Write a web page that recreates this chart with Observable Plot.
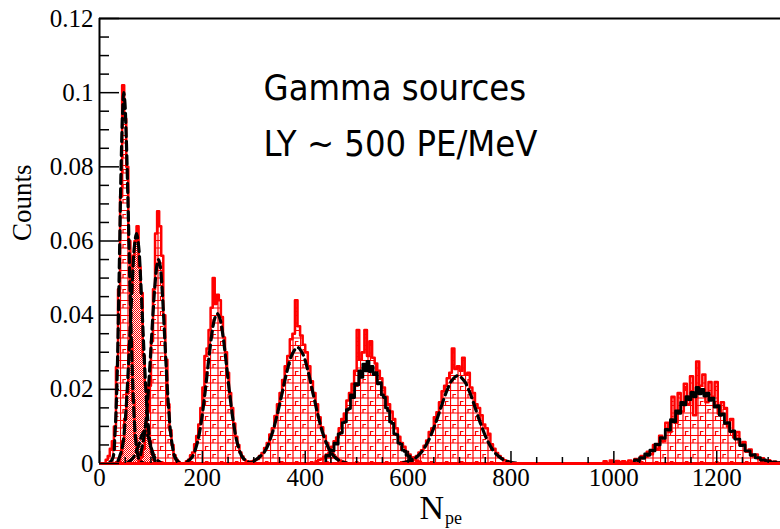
<!DOCTYPE html>
<html>
<head>
<meta charset="utf-8">
<script src="https://cdn.jsdelivr.net/npm/d3@7"></script>
<script src="https://cdn.jsdelivr.net/npm/@observablehq/plot@0.6"></script>
<style>
  body { margin: 0; background: #fff; }
  #chart svg { display: block; }
</style>
</head>
<body>
<div id="chart"></div>
<script>
// Axis ticks and labels
const xMajor = [0, 200, 400, 600, 800, 1000, 1200];
const yMajor = [0, 0.02, 0.04, 0.06, 0.08, 0.1, 0.12];

// Measured spectra: each histogram is {start, width, counts} (normalised counts per bin)
const specA = { start: 12, width: 4, counts: [0.001, 0.002, 0.004, 0.006, 0.010, 0.026, 0.047, 0.072, 0.102, 0.093, 0.080, 0.060, 0.033, 0.017, 0.007, 0.003, 0.001, 0.0003] };
const specB = { start: 36, width: 4, counts: [0.0003, 0.0025, 0.006, 0.012, 0.019, 0.032, 0.046, 0.056, 0.060, 0.064, 0.053, 0.046, 0.029, 0.021, 0.010, 0.006, 0.003, 0.001] };
const specC = { start: 76, width: 4, counts: [0.0007, 0.0018, 0.004, 0.008, 0.014, 0.021, 0.033, 0.047, 0.062, 0.068, 0.064, 0.056, 0.040, 0.028, 0.016, 0.009, 0.005, 0.0022, 0.001, 0.0004] };
const specD = { start: 168, width: 4, counts: [0.0006, 0.0010, 0.0022, 0.0030, 0.0052, 0.0074, 0.0105, 0.0150, 0.0205, 0.0290, 0.0310, 0.0360, 0.0420, 0.0500, 0.0430, 0.0455, 0.0440, 0.0395, 0.0340, 0.0300, 0.0245, 0.0190, 0.0150, 0.0108, 0.0072, 0.0050, 0.0030, 0.0019, 0.0010, 0.0006, 0.0003] };
const specE = { start: 290, width: 5, counts: [0.0004, 0.0006, 0.0010, 0.0012, 0.0020, 0.0028, 0.0042, 0.0055, 0.0078, 0.0095, 0.0128, 0.0160, 0.0190, 0.0225, 0.0262, 0.0290, 0.0335, 0.0350, 0.0440, 0.0370, 0.0345, 0.0320, 0.0300, 0.0262, 0.0222, 0.0190, 0.0160, 0.0125, 0.0098, 0.0075, 0.0055, 0.0040, 0.0028, 0.0018, 0.0012, 0.0008, 0.0005, 0.0003] };
const specF = { start: 420, width: 5, counts: [0.0006, 0.0010, 0.0012, 0.0018, 0.0024, 0.0030, 0.0045, 0.0060, 0.0070, 0.0095, 0.0120, 0.0135, 0.0170, 0.0190, 0.0215, 0.0250, 0.0360, 0.0280, 0.0300, 0.0360, 0.0290, 0.0330, 0.0285, 0.0270, 0.0250, 0.0230, 0.0205, 0.0180, 0.0160, 0.0140, 0.0120, 0.0095, 0.0072, 0.0055, 0.0045, 0.0032, 0.0024, 0.0016, 0.0011, 0.0008, 0.0005] };
const specG = { start: 590, width: 5, counts: [0.0004, 0.0005, 0.0008, 0.0010, 0.0016, 0.0020, 0.0030, 0.0036, 0.0048, 0.0062, 0.0085, 0.0095, 0.0125, 0.0138, 0.0165, 0.0195, 0.0210, 0.0230, 0.0245, 0.0310, 0.0255, 0.0262, 0.0250, 0.0285, 0.0240, 0.0245, 0.0205, 0.0190, 0.0160, 0.0150, 0.0130, 0.0105, 0.0095, 0.0080, 0.0052, 0.0040, 0.0028, 0.0020, 0.0014, 0.0009, 0.0006, 0.0004] };
const specH = { start: 980, width: 6, counts: [0.0006, 0, 0.0008, 0.0004, 0.0007, 0.0004, 0.0006, 0.0003, 0.0008, 0.0005, 0.0012, 0.0010, 0.0020, 0.0018, 0.0032, 0.0025, 0.0050, 0.0040, 0.0075, 0.0060, 0.0110, 0.0085, 0.0180, 0.0110, 0.0190, 0.0140, 0.0215, 0.0160, 0.0235, 0.0130, 0.0275, 0.0210, 0.0240, 0.0165, 0.0220, 0.0180, 0.0220, 0.0135, 0.0165, 0.0150, 0.0100, 0.0120, 0.0070, 0.0085, 0.0050, 0.0058, 0.0032, 0.0038, 0.0020, 0.0024, 0.0012, 0.0014, 0.0007, 0.0009, 0.0004, 0.0005, 0.0002, 0.0003] };

// Simulated spectra (black histograms)
const simF = { start: 440, width: 4, counts: [0.0022, 0.0020, 0.0036, 0.0034, 0.0055, 0.0052, 0.0080, 0.0082, 0.0110, 0.0112, 0.0145, 0.0148, 0.0185, 0.0178, 0.0215, 0.0212, 0.0250, 0.0232, 0.0268, 0.0250, 0.0275, 0.0248, 0.0262, 0.0240, 0.0245, 0.0215, 0.0218, 0.0185, 0.0178, 0.0150, 0.0142, 0.0112, 0.0108, 0.0080, 0.0078, 0.0055, 0.0052, 0.0036, 0.0033, 0.0022, 0.0020, 0.0012] };
const simH = { start: 1040, width: 5, counts: [0.0010, 0.0008, 0.0016, 0.0014, 0.0026, 0.0022, 0.0036, 0.0034, 0.0052, 0.0050, 0.0070, 0.0068, 0.0092, 0.0090, 0.0118, 0.0112, 0.0142, 0.0135, 0.0165, 0.0158, 0.0180, 0.0172, 0.0192, 0.0180, 0.0205, 0.0188, 0.0200, 0.0182, 0.0190, 0.0170, 0.0176, 0.0152, 0.0156, 0.0130, 0.0134, 0.0108, 0.0110, 0.0086, 0.0088, 0.0066, 0.0066, 0.0048, 0.0050, 0.0034, 0.0034, 0.0022, 0.0024, 0.0015, 0.0016, 0.0009, 0.0010, 0.0005, 0.0006, 0.0003, 0.0004, 0.0002, 0.0002] };

// Fitted peak shapes (dashed curves)
const fitAx = [20, 26, 30, 34, 38, 42, 45, 47, 49, 52, 56, 60, 64, 68, 72, 78, 86];
const fitAy = [0.0003, 0.0015, 0.0077, 0.022, 0.049, 0.080, 0.095, 0.100, 0.098, 0.088, 0.067, 0.043, 0.024, 0.011, 0.0044, 0.0008, 0.0001];
const fitBx = [36, 44, 50, 56, 60, 64, 68, 72, 76, 80, 84, 88, 94, 100, 108];
const fitBy = [0.0007, 0.0041, 0.0115, 0.0255, 0.0376, 0.0496, 0.0587, 0.062, 0.0587, 0.0496, 0.0376, 0.0255, 0.0115, 0.0041, 0.0007];
const fitKx = [55, 65, 75, 82, 88, 94, 100, 108, 118];
const fitKy = [0.0003, 0.0015, 0.0045, 0.0075, 0.0088, 0.0075, 0.0045, 0.0015, 0.0003];
const fitCx = [80, 88, 94, 100, 104, 108, 112, 115, 118, 122, 126, 130, 134, 140, 148, 156];
const fitCy = [0.0024, 0.0086, 0.0179, 0.031, 0.0404, 0.0485, 0.0537, 0.055, 0.0533, 0.0464, 0.0361, 0.0252, 0.0157, 0.0063, 0.0013, 0.0002];
const fitDx = [170, 180, 190, 198, 206, 212, 218, 224, 229, 234, 240, 246, 252, 260, 268, 278, 290, 300];
const fitDy = [0.0004, 0.0017, 0.0055, 0.0114, 0.0201, 0.0276, 0.0345, 0.0391, 0.0404, 0.0391, 0.0345, 0.0276, 0.0201, 0.0114, 0.0055, 0.0017, 0.0004, 0.0001];
const fitEx = [300, 320, 335, 345, 355, 365, 375, 385, 395, 405, 415, 425, 435, 450, 465, 480];
const fitEy = [0.0006, 0.003, 0.0078, 0.0129, 0.019, 0.0251, 0.0296, 0.0313, 0.0296, 0.0251, 0.019, 0.0129, 0.0078, 0.003, 0.0009, 0.0002];
const fitGx = [590, 610, 625, 640, 655, 665, 675, 685, 697, 710, 720, 730, 740, 755, 770, 790, 810];
const fitGy = [0.0002, 0.0011, 0.0029, 0.0063, 0.0115, 0.0156, 0.0195, 0.0224, 0.0237, 0.0221, 0.0191, 0.0152, 0.0111, 0.006, 0.0027, 0.0007, 0.0001];

const annotation = "Gamma sources\nLY ~ 500 PE/MeV";

// ---- layout ----
const width = 780, height = 529;
const margin = { top: 18, right: 0, bottom: 66, left: 99 };
const frameW = width - margin.left - margin.right;
const frameH = height - margin.top - margin.bottom;
const red = "#ff0000";

// histogram -> closed step outline (left bin edges, step-after)
function steps(h) {
  const pts = [{ x: h.start, y: 0 }];
  h.counts.forEach((c, i) => pts.push({ x: h.start + i * h.width, y: c }));
  pts.push({ x: h.start + h.counts.length * h.width, y: 0 });
  return pts;
}
const curvePts = (xs, ys) => xs.map((x, i) => ({ x, y: ys[i] }));

const yMinor = d3.range(0, 0.1201, 0.005).filter(v => Math.abs(v / 0.02 - Math.round(v / 0.02)) > 1e-6);
const xMinor = d3.range(0, 1324, 50).filter(v => v % 200 !== 0);

const hatched = [specA, specC, specD, specE, specF, specG, specH];

const marks = [];
// hatched red fills
for (const h of hatched) {
  marks.push(Plot.areaY(steps(h), { x: "x", y: "y", curve: "step-after", fill: "url(#hatchGrid)", clip: true }));
}
// dense fill of the second low-energy spectrum
marks.push(Plot.areaY(steps(specB), { x: "x", y: "y", curve: "step-after", fill: "url(#hatchDense)", clip: true }));
// red outlines
for (const h of [...hatched, specB]) {
  marks.push(Plot.lineY(steps(h), { x: "x", y: "y", curve: "step-after", stroke: red, strokeWidth: 2.5, clip: true }));
}
// simulated spectra (black, jagged)
for (const h of [simF, simH]) {
  marks.push(Plot.lineY(steps(h), { x: "x", y: "y", curve: "step-after", stroke: "black", strokeWidth: 2.8, clip: true }));
}
// dashed fits
for (const [xs, ys] of [[fitAx, fitAy], [fitBx, fitBy], [fitKx, fitKy], [fitCx, fitCy], [fitDx, fitDy], [fitEx, fitEy], [fitGx, fitGy]]) {
  marks.push(Plot.line(curvePts(xs, ys), { x: "x", y: "y", curve: "catmull-rom", stroke: "black", strokeWidth: 3.2, strokeDasharray: "9,5", clip: true }));
}

// frame: left and top border, red zero line at the bottom
marks.push(Plot.ruleX([0], { stroke: "black", strokeWidth: 2 }));
marks.push(Plot.ruleY([0.12], { stroke: "black", strokeWidth: 2 }));
marks.push(Plot.ruleY([0], { stroke: red, strokeWidth: 3 }));

// inward ticks
marks.push(Plot.tickY(yMajor, { y: d => d, insetRight: frameW - 20, stroke: "black", strokeWidth: 1.5 }));
marks.push(Plot.tickY(yMinor, { y: d => d, insetRight: frameW - 10, stroke: "black", strokeWidth: 1.5 }));
marks.push(Plot.tickX(xMajor, { x: d => d, insetTop: frameH - 12, stroke: "black", strokeWidth: 1.5 }));
marks.push(Plot.tickX(xMinor, { x: d => d, insetTop: frameH - 6, stroke: "black", strokeWidth: 1.5 }));

// tick labels
marks.push(Plot.axisY({ ticks: yMajor, tickSize: 0, tickPadding: 6, tickFormat: d => String(+d.toFixed(2)), label: null, fontSize: 25 }));
marks.push(Plot.axisX({ ticks: xMajor, tickSize: 0, tickPadding: 5, tickFormat: d => String(d), label: null, fontSize: 25 }));

// axis titles
marks.push(Plot.text(["Counts"], { frameAnchor: "left", rotate: -90, dx: -77, fontSize: 27 }));
marks.push(Plot.text(["N"], { frameAnchor: "bottom", textAnchor: "end", dx: 4, dy: 55, lineAnchor: "bottom", fontSize: 34 }));
marks.push(Plot.text(["pe"], { frameAnchor: "bottom", textAnchor: "start", dx: 5, dy: 60, lineAnchor: "bottom", fontSize: 18 }));

// annotation
marks.push(Plot.text([annotation], {
  x: 319, y: 0.0828, textAnchor: "start", lineAnchor: "bottom", lineHeight: 1.58,
  fontSize: 36, fontFamily: "'DejaVu Sans Condensed', 'DejaVu Sans', sans-serif", fontStretch: "condensed"
}));

const svg = Plot.plot({
  width, height,
  marginTop: margin.top, marginRight: margin.right, marginBottom: margin.bottom, marginLeft: margin.left,
  x: { domain: [0, 1324] },
  y: { domain: [0, 0.12] },
  style: { fontFamily: "'Liberation Serif', 'Times New Roman', serif", fontSize: "24px", background: "white", color: "black" },
  marks
});

// fill patterns used by the histograms
const defs = d3.select(svg).insert("defs", ":first-child");
const grid = defs.append("pattern")
  .attr("id", "hatchGrid").attr("patternUnits", "userSpaceOnUse")
  .attr("width", 15).attr("height", 15);
grid.append("path")
  .attr("d", "M0,0.5H15M0,8H15M0.5,0V15M8,0V15M3,8V4.5H6M10.5,15V11.5H13.5")
  .attr("stroke", red).attr("stroke-width", 1.2).attr("fill", "none");
const dense = defs.append("pattern")
  .attr("id", "hatchDense").attr("patternUnits", "userSpaceOnUse")
  .attr("width", 2).attr("height", 2);
dense.append("rect").attr("width", 2).attr("height", 2).attr("fill", "white");
dense.append("rect").attr("x", 0).attr("y", 0).attr("width", 1).attr("height", 1).attr("fill", red);
dense.append("rect").attr("x", 1).attr("y", 1).attr("width", 1).attr("height", 1).attr("fill", red);

document.getElementById("chart").appendChild(svg);
</script>
</body>
</html>
